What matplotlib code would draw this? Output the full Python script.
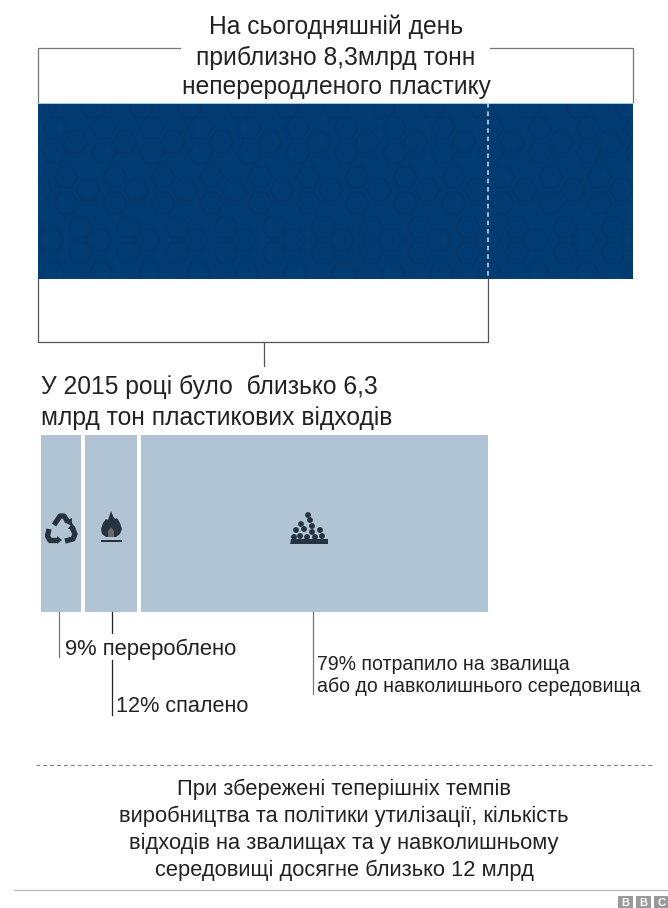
import numpy as np
import matplotlib
matplotlib.use('Agg')
import matplotlib.pyplot as plt
from matplotlib.patches import Rectangle, RegularPolygon, Polygon, Circle

plt.rcParams['font.family'] = ['Liberation Sans', 'DejaVu Sans']

# plastic totals, billion tonnes
total_produced = 8.3
total_waste = 6.3

# what happened to the waste, percent
waste_shares = [9, 12, 79]

title_lines = ['На сьогодняшній день', 'приблизно 8,3млрд тонн', 'непереродленого пластику']
waste_lines = ['У 2015 році було  близько 6,3', 'млрд тон пластикових відходів']
share_labels = ['9% перероблено', '12% спалено', '79% потрапило на звалища\nабо до навколишнього середовища']
note_lines = ['При збережені теперішніх темпів',
              'виробництва та політики утилізації, кількість',
              'відходів на звалищах та у навколишньому',
              'середовищі досягне близько 12 млрд']

navy = '#033c72'
hex_line = '#07386a'
pale = '#b0c4d3'
line_grey = '#777777'
text_col = '#222222'

fig = plt.figure(figsize=(6.68, 9.08), dpi=100)
ax = fig.add_axes([0, 0, 1, 1])
ax.set_xlim(0, 668)
ax.set_ylim(908, 0)
ax.axis('off')

# top bar, all plastic; width scaled to the total
bar_left, bar_right = 38, 633
waste_right = bar_left + (bar_right - bar_left) * total_waste / total_produced - 2
bar = Rectangle((bar_left, 103), bar_right - bar_left, 176, fc=navy, ec='none', zorder=1)
ax.add_patch(bar)
ax.plot([bar_left, bar_right], [102.5, 102.5], color='#a9cde3', lw=0.7, zorder=3)

# hexagon texture clipped to the bar, each row repeats along the bar
hex_rows = [(107, 93), (128, 55), (142, 76), (153, 55), (177, 66), (190, 88),
            (203, 66), (227, 80), (240, 51), (253, 80), (273, 53)]
for y, start in hex_rows:
    for x in np.arange(start - 48.5, bar_right + 20, 48.5):
        h = RegularPolygon((x, y), 6, radius=12, orientation=np.pi / 6, fc='none', ec=hex_line, lw=1.1, zorder=2)
        ax.add_patch(h)
        h.set_clip_path(bar)

ax.plot([waste_right, waste_right], [103, 279], color='#cfe3f2', lw=1.1, dashes=(3, 2.5), zorder=3)

# bracket over the top bar
ax.plot([38, 38, 180], [102, 48, 48], color=line_grey, lw=0.9)
ax.plot([490, 633, 633], [48, 48, 102], color=line_grey, lw=0.9)

# bracket under the part that became waste
ax.plot([38, 38, waste_right, waste_right], [279, 342, 342, 279], color='#555555', lw=0.9)
ax.plot([264, 264], [342, 366], color='#555555', lw=0.9)

for line, y in zip(title_lines, [27, 58, 87]):
    ax.text(336, y, line, ha='center', va='center', fontsize=17.7, color=text_col)

for line, y in zip(waste_lines, [387, 418]):
    ax.text(41, y, line, ha='left', va='center', fontsize=17.7, color=text_col)

# waste bar split by share, gaps taken out of the width first
split_left, split_right = 41, 488
gap = 4
unit = (split_right - split_left - gap * (len(waste_shares) - 1)) / sum(waste_shares)
x0 = split_left
for share in waste_shares:
    ax.add_patch(Rectangle((x0, 435), share * unit, 177, fc=pale, ec='none'))
    x0 += share * unit + gap

icon = '#26323e'

# recycling arrows
arrow_paths = [[(54, 525), (60, 516), (64, 516), (68, 522)],
               [(49, 529), (47.5, 536), (50, 540.5), (57, 540.5)],
               [(65, 541), (73, 539), (75, 534), (72, 527)]]
for path in arrow_paths:
    xs, ys = zip(*path)
    ax.plot(xs, ys, color=icon, lw=3.8, solid_capstyle='butt', solid_joinstyle='round', zorder=4)
ax.add_patch(Polygon([(64, 522), (72, 518), (72, 526)], fc=icon, ec='none', zorder=4))
ax.add_patch(Polygon([(57, 536), (57, 544), (62, 540)], fc=icon, ec='none', zorder=4))
ax.add_patch(Polygon([(68, 529), (76, 529), (72, 523)], fc=icon, ec='none', zorder=4))

# flame
flame = [(111, 511), (113, 516), (115, 519), (117, 518), (120, 523), (122, 529), (120, 534), (116, 537),
         (106, 537), (102, 534), (101, 529), (103, 523), (106, 519), (108, 520)]
ax.add_patch(Polygon(flame, fc=icon, ec='none', zorder=4))
ax.add_patch(Polygon([(111, 527), (114, 531), (114, 537), (108, 537), (108, 531)], fc='#6d6a66', ec='none', zorder=5))
ax.add_patch(Rectangle((101, 540), 21, 2, fc=icon, ec='none', zorder=4))

# landfill heap
ax.add_patch(Polygon([(290, 544), (291, 539), (328, 539), (328, 544)], fc=icon, ec='none', zorder=4))
stones = [(308, 515), (310, 520), (301, 524), (312, 526), (296, 530), (304, 529), (320, 530),
          (312, 532), (300, 536), (307, 537), (315, 537), (322, 536), (294, 537)]
for sx, sy in stones:
    ax.add_patch(Circle((sx, sy), 2.9, fc=icon, ec='none', zorder=4))

# leaders and share labels
ax.plot([59, 59], [612, 657], color=line_grey, lw=0.9)
ax.plot([112, 112], [612, 633], color='#222222', lw=0.9)
ax.plot([112, 112], [660, 715], color='#222222', lw=0.9)
ax.plot([313, 313], [612, 694], color=line_grey, lw=0.9)
ax.text(65, 649, share_labels[0], ha='left', va='center', fontsize=15.8, color=text_col)
ax.text(116, 706, share_labels[1], ha='left', va='center', fontsize=15.6, color=text_col)
for line, y in zip(share_labels[2].split('\n'), [665, 687]):
    ax.text(317, y, line, ha='left', va='center', fontsize=14.05, color=text_col)

ax.plot([36, 652], [765, 765], color='#888888', lw=0.9, dashes=(3, 2.5))

for line, y in zip(note_lines, [789, 816, 843, 870]):
    ax.text(344, y, line, ha='center', va='center', fontsize=15.75, color=text_col)

# footer rule and BBC blocks
ax.plot([14, 668], [890, 890], color='#bdbdbd', lw=1)
for x, ch in zip([618, 636, 654], 'BBC'):
    ax.add_patch(Rectangle((x, 896), 15, 12, fc='#9a9a9a', ec='none'))
    ax.text(x + 7.5, 902.5, ch, ha='center', va='center', fontsize=8, fontweight='bold', color='white')

fig.savefig('out.png', dpi=100)
